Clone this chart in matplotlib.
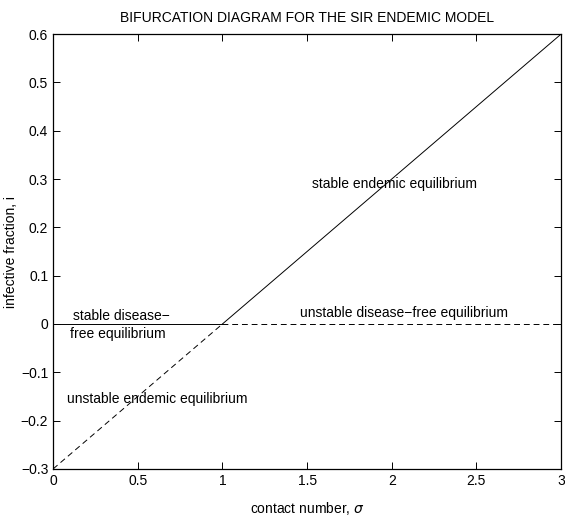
import matplotlib
matplotlib.use("Agg")
from matplotlib import pyplot as plt

plt.rcParams['font.family'] = ['Liberation Sans', 'DejaVu Sans']

# branches of the bifurcation diagram
sigma_dfe_stable = [0, 1]
i_dfe_stable = [0, 0]
sigma_dfe_unstable = [1, 3]
i_dfe_unstable = [0, 0]
sigma_end_unstable = [0, 1]
i_end_unstable = [-0.3, 0]
sigma_end_stable = [1, 3]
i_end_stable = [0, 0.6]

xticks = [0, 0.5, 1, 1.5, 2, 2.5, 3]
xticklabels = ["0", "0.5", "1", "1.5", "2", "2.5", "3"]
yticks = [-0.3, -0.2, -0.1, 0, 0.1, 0.2, 0.3, 0.4, 0.5, 0.6]
yticklabels = ["\u22120.3", "\u22120.2", "\u22120.1", "0", "0.1", "0.2", "0.3", "0.4", "0.5", "0.6"]

fig = plt.figure(figsize=(5.65, 5.17), dpi=100)
ax = fig.add_axes([0.094, 0.093, 0.899, 0.841])

ax.plot(sigma_dfe_stable, i_dfe_stable, color="black", linewidth=0.7)
ax.plot(sigma_dfe_unstable, i_dfe_unstable, color="black", linewidth=0.7, linestyle=(0, (6, 4)))
ax.plot(sigma_end_unstable, i_end_unstable, color="black", linewidth=0.7, linestyle=(0, (6, 4)))
ax.plot(sigma_end_stable, i_end_stable, color="black", linewidth=0.7)

ax.set_xlim(0, 3)
ax.set_ylim(-0.3, 0.6)
ax.set_xticks(xticks)
ax.set_xticklabels(xticklabels)
ax.set_yticks(yticks)
ax.set_yticklabels(yticklabels)
ax.tick_params(direction="in", top=True, right=True, labelsize=10, length=5, width=0.7)
for s in ax.spines.values():
    s.set_linewidth(0.9)

ax.text(0.12, 0.003, "stable disease\u2212", fontsize=10, va="bottom")
ax.text(0.1, -0.007, "free equilibrium", fontsize=10, va="top")
ax.text(0.08, -0.155, "unstable endemic equilibrium", fontsize=10, va="center")
ax.text(1.53, 0.29, "stable endemic equilibrium", fontsize=10, va="center")
ax.text(1.46, 0.022, "unstable disease\u2212free equilibrium", fontsize=10, va="center")

ax.set_title("BIFURCATION DIAGRAM FOR THE SIR ENDEMIC MODEL", fontsize=10, pad=9)
ax.set_xlabel("contact number, $\\sigma$", fontsize=10, labelpad=9)
ax.set_ylabel("infective fraction, i", fontsize=10, labelpad=2)

fig.savefig("out.png", dpi=100)
